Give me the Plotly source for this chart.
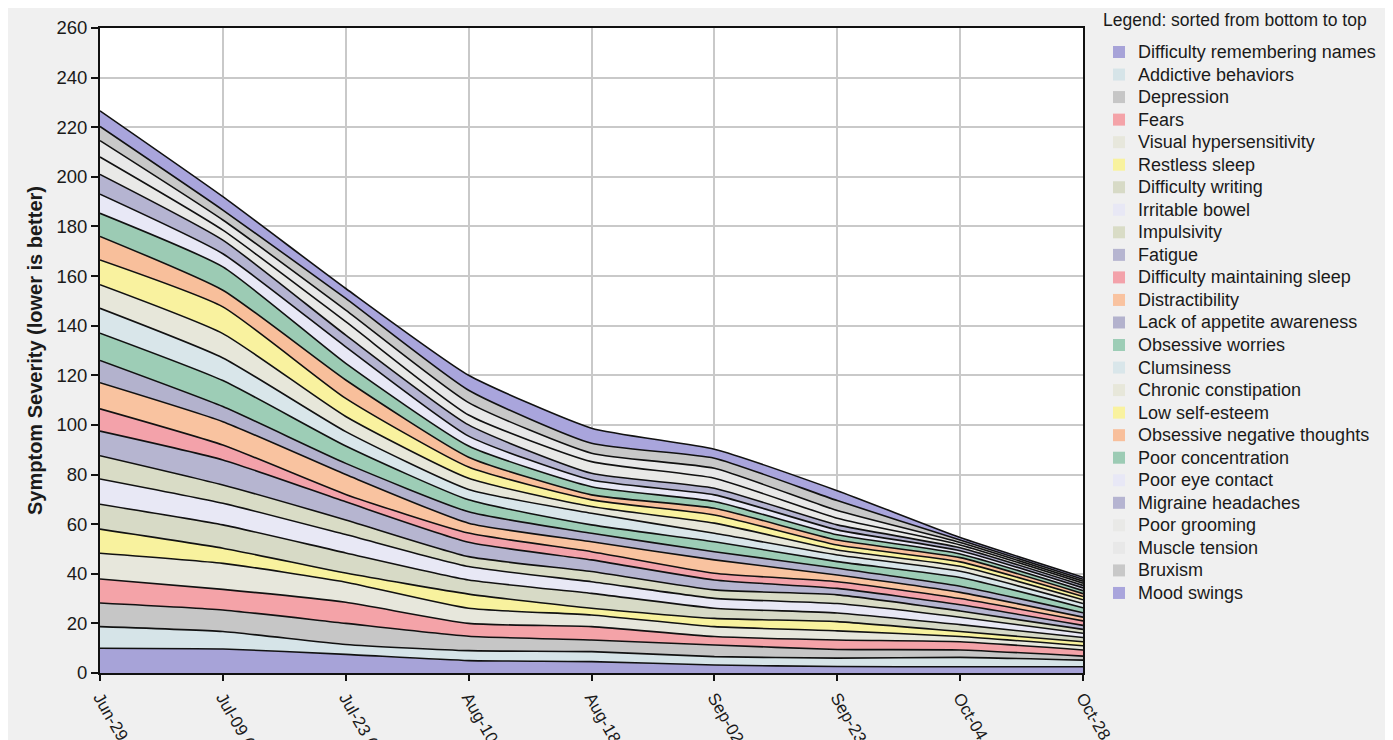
import plotly.graph_objects as go

# ---- data ----
dates = ["Jun-29", "Jul-09", "Jul-23", "Aug-10", "Aug-18", "Sep-02", "Sep-23", "Oct-04", "Oct-28"]
tick_labels = ["Jun-29 (1)", "Jul-09 (2)", "Jul-23 (2)", "Aug-10 (1)", "Aug-18 (1)",
               "Sep-02 (1)", "Sep-23 (1)", "Oct-04 (1)", "Oct-28 (1)"]
y_ticks = [0, 20, 40, 60, 80, 100, 120, 140, 160, 180, 200, 220, 240, 260]

# series listed from bottom of the stack to top
difficulty_remembering_names = [10.0, 9.7, 7.5, 5.0, 4.6, 3.2, 2.6, 2.5, 2.5]
addictive_behaviors = [8.7, 7.0, 4.0, 4.0, 4.0, 3.4, 3.4, 3.8, 2.7]
depression = [9.5, 8.7, 8.5, 5.8, 4.7, 4.7, 3.5, 3.0, 1.6]
fears = [9.7, 8.3, 8.5, 5.2, 5.4, 3.4, 3.8, 3.3, 2.5]
visual_hypersensitivity = [10.4, 10.5, 8.1, 6.1, 4.7, 4.0, 3.7, 2.1, 1.7]
restless_sleep = [9.7, 6.1, 3.7, 5.7, 2.7, 3.3, 3.7, 2.0, 1.6]
difficulty_writing = [10.0, 9.4, 8.1, 5.7, 6.0, 4.1, 3.5, 2.8, 1.7]
irritable_bowel = [10.2, 8.7, 7.4, 5.4, 4.7, 4.0, 3.8, 3.0, 1.7]
impulsivity = [9.4, 7.4, 5.9, 4.0, 4.1, 3.4, 3.5, 2.5, 1.6]
fatigue = [9.9, 10.1, 7.3, 5.8, 4.7, 4.0, 2.6, 2.5, 1.6]
difficulty_maintaining_sleep = [9.0, 6.0, 3.0, 3.7, 3.3, 2.7, 2.7, 2.5, 1.8]
distractibility = [10.5, 9.4, 8.0, 4.0, 4.0, 5.4, 2.7, 2.5, 1.5]
lack_of_appetite_awareness = [9.0, 6.1, 4.5, 4.6, 3.4, 3.3, 2.7, 2.5, 1.8]
obsessive_worries = [11.0, 10.5, 7.0, 4.8, 3.4, 4.0, 2.7, 3.5, 2.0]
clumsiness = [10.0, 9.1, 5.8, 4.2, 4.7, 3.4, 2.7, 2.5, 1.7]
chronic_constipation = [9.5, 9.8, 6.1, 4.5, 2.7, 4.1, 2.0, 2.0, 1.5]
low_self_esteem = [10.0, 10.8, 7.3, 4.5, 2.7, 3.3, 2.0, 1.8, 1.3]
obsessive_negative_thoughts = [9.5, 6.7, 7.4, 4.0, 2.0, 2.7, 2.0, 1.7, 1.2]
poor_concentration = [9.3, 9.4, 6.7, 4.5, 3.3, 2.7, 2.1, 1.5, 1.2]
poor_eye_contact = [7.7, 5.3, 6.7, 4.0, 2.7, 2.7, 2.0, 1.3, 1.1]
migraine_headaches = [8.0, 5.5, 4.7, 4.5, 2.7, 2.7, 2.0, 1.2, 1.0]
poor_grooming = [7.0, 4.0, 5.4, 4.0, 4.7, 4.0, 2.7, 1.1, 0.9]
muscle_tension = [6.6, 4.1, 4.7, 5.0, 3.4, 4.0, 3.1, 1.0, 0.8]
bruxism = [5.7, 4.0, 4.7, 5.0, 4.0, 4.1, 4.0, 1.0, 0.8]
mood_swings = [6.3, 5.4, 4.0, 6.0, 6.1, 3.6, 4.0, 1.0, 0.8]

series_names = [
    "Difficulty remembering names", "Addictive behaviors", "Depression", "Fears",
    "Visual hypersensitivity", "Restless sleep", "Difficulty writing", "Irritable bowel",
    "Impulsivity", "Fatigue", "Difficulty maintaining sleep", "Distractibility",
    "Lack of appetite awareness", "Obsessive worries", "Clumsiness", "Chronic constipation",
    "Low self-esteem", "Obsessive negative thoughts", "Poor concentration", "Poor eye contact",
    "Migraine headaches", "Poor grooming", "Muscle tension", "Bruxism", "Mood swings",
]
series_values = [
    difficulty_remembering_names, addictive_behaviors, depression, fears,
    visual_hypersensitivity, restless_sleep, difficulty_writing, irritable_bowel,
    impulsivity, fatigue, difficulty_maintaining_sleep, distractibility,
    lack_of_appetite_awareness, obsessive_worries, clumsiness, chronic_constipation,
    low_self_esteem, obsessive_negative_thoughts, poor_concentration, poor_eye_contact,
    migraine_headaches, poor_grooming, muscle_tension, bruxism, mood_swings,
]

# ---- styles ----
series_colors = [
    "#a7a3d8", "#d6e4e8", "#c6c6c6", "#f4a3a8",
    "#e7e7dc", "#f8f29e", "#d7dac6", "#e8e8f5",
    "#d9dcc6", "#b6b5d0", "#f3a2aa", "#f9c3a0",
    "#b3b2cd", "#9dcdb6", "#d9e6ea", "#e7e7da",
    "#f9f29f", "#f8bf9b", "#9ccbb4", "#e8e8f6",
    "#b5b4d1", "#e9e9e7", "#e8e8e8", "#c8c8c8", "#a9a5dc",
]
FONT = "Liberation Sans, Arial, sans-serif"
TXT = "#1a1a1a"

W, H = 1385, 732
L, T, R, B = 92, 20, 310, 67
PW, PH = W - L - R, H - T - B


def px_x(x):  # figure pixel -> paper
    return (x - L) / PW


def px_y(y):
    return (H - B - y) / PH


fig = go.Figure()
for name, vals, col in zip(series_names, series_values, series_colors):
    fig.add_trace(go.Scatter(
        x=dates, y=vals, name=name, stackgroup="s", mode="lines",
        line=dict(color="#111111", width=1.6, shape="spline", smoothing=0.5),
        fillcolor=col, showlegend=False, hoverinfo="name+y",
    ))

# ---- manual legend (sorted from bottom to top of the stack) ----
annotations = [dict(
    text="Legend: sorted from bottom to top", xref="paper", yref="paper",
    x=px_x(1093), y=px_y(12), xanchor="left", yanchor="middle",
    showarrow=False, font=dict(family=FONT, size=17.5, color=TXT),
)]
shapes = []
row0, step = 44, 22.54
for i, (name, col) in enumerate(zip(series_names, series_colors)):
    yc = row0 + step * i
    annotations.append(dict(
        text=name, xref="paper", yref="paper", x=px_x(1128), y=px_y(yc),
        xanchor="left", yanchor="middle", showarrow=False,
        font=dict(family=FONT, size=18, color=TXT),
    ))
    shapes.append(dict(
        type="rect", xref="paper", yref="paper",
        x0=px_x(1105), x1=px_x(1117), y0=px_y(yc + 6), y1=px_y(yc - 6),
        fillcolor=col, line=dict(width=0),
    ))

fig.update_layout(
    template="none",
    width=W, height=H,
    margin=dict(l=L, r=R, t=T, b=B, autoexpand=False),
    paper_bgcolor="#f0f0f0", plot_bgcolor="white",
    font=dict(family=FONT, size=18, color=TXT),
    showlegend=False,
    annotations=annotations,
    shapes=shapes,
)
fig.update_xaxes(
    type="category", categoryorder="array", categoryarray=dates,
    range=[0, len(dates) - 1], tickvals=dates, ticktext=tick_labels,
    showgrid=True, gridcolor="#c9c9c9", gridwidth=1.5,
    ticks="outside", ticklen=6, tickwidth=1.5, tickcolor="#111",
    showline=True, linecolor="#111", linewidth=2, mirror=True,
    tickangle=60, tickfont=dict(family=FONT, size=17, color=TXT),
    automargin=False, zeroline=False,
)
fig.update_yaxes(
    range=[0, 260], tickvals=y_ticks,
    showgrid=True, gridcolor="#c9c9c9", gridwidth=1.5,
    ticks="outside", ticklen=7, tickwidth=1.5, tickcolor="#111",
    showline=True, linecolor="#111", linewidth=2, mirror=True,
    tickfont=dict(family=FONT, size=18.5, color=TXT),
    title=dict(text="<b>Symptom Severity (lower is better)</b>",
               font=dict(family=FONT, size=20, color=TXT), standoff=8),
    automargin=False, zeroline=False,
)

fig.write_html("out.html")
